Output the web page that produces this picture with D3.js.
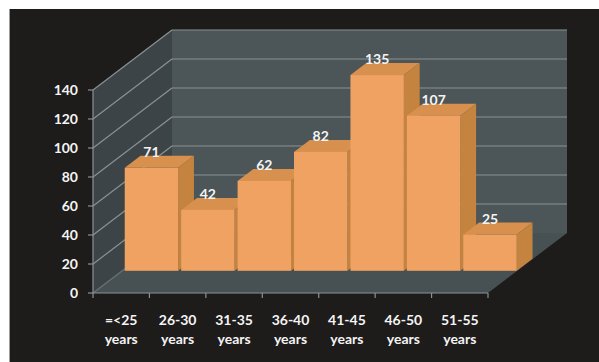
<!DOCTYPE html>
<html>
<head>
<meta charset="utf-8">
<script src="https://cdn.jsdelivr.net/npm/d3@7"></script>
<style>
  html, body { margin: 0; padding: 0; background: #ffffff; }
  svg { display: block; }
  text { font-family: Lato, "Open Sans", "DejaVu Sans", sans-serif; fill: #f4f4f4; font-weight: 700; }
</style>
</head>
<body>
<svg id="chart" width="599" height="362"></svg>
<script>
// Age groups and respondent counts
const categories = ["=<25 years", "26-30 years", "31-35 years", "36-40 years", "41-45 years", "46-50 years", "51-55 years"];
const values = [71, 42, 62, 82, 135, 107, 25];
const yTicks = [0, 20, 40, 60, 80, 100, 120, 140];

const W = 599, H = 362;
const svg = d3.select("#chart");

// Colours
const bg = "#1e1b1b", backWall = "#4c5557", sideWall = "#3c4447", floorCol = "#475052";
const gridCol = "#8a9294";
const barFront = "#efa262", barSide = "#c4833f", barTop = "#d8904f";

// Oblique projection: depth vector from the front plane to the back wall
const DX = 79, DY = -60;
const barZ0 = 0.37, barZ1 = 0.57;   // bar slab position in depth (0 = front, 1 = back)

const x = d3.scaleBand().domain(categories).range([93, 488]).padding(0);
const y = d3.scaleLinear().domain([0, 140]).range([293, 90]);

// Background panel
svg.append("rect").attr("x", 9).attr("y", 9).attr("width", W - 9).attr("height", H - 9).attr("fill", bg);
svg.append("line").attr("x1", 9.5).attr("x2", 9.5).attr("y1", 9).attr("y2", H)
  .attr("stroke", "#9a9a9a").attr("stroke-width", 1);

const x0 = x.range()[0], x1 = x.range()[1];
const y0 = y(0), yTop = y(140);
const pts = a => a.map(p => p.join(",")).join(" ");

// Walls and floor
svg.append("polygon").attr("fill", backWall)
  .attr("points", pts([[x0 + DX, yTop + DY], [x1 + DX, yTop + DY], [x1 + DX, y0 + DY], [x0 + DX, y0 + DY]]));
svg.append("polygon").attr("fill", sideWall)
  .attr("points", pts([[x0, yTop], [x0 + DX, yTop + DY], [x0 + DX, y0 + DY], [x0, y0]]));
svg.append("polygon").attr("fill", floorCol)
  .attr("points", pts([[x0, y0], [x1, y0], [x1 + DX, y0 + DY], [x0 + DX, y0 + DY]]));

// Gridlines on the back wall and the side wall
const grid = svg.append("g").attr("stroke", gridCol).attr("stroke-width", 1.2).attr("fill", "none");
yTicks.filter(v => v > 0).forEach(v => {
  grid.append("line").attr("x1", x0 + DX).attr("x2", x1 + DX)
    .attr("y1", y(v) + DY).attr("y2", y(v) + DY);
  grid.append("line").attr("x1", x0).attr("y1", y(v))
    .attr("x2", x0 + DX).attr("y2", y(v) + DY);
});
// floor edge along the side wall
grid.append("line").attr("x1", x0).attr("y1", y0).attr("x2", x0 + DX).attr("y2", y0 + DY).attr("stroke-opacity", 0.6);

// Axis lines and ticks
const axisG = svg.append("g").attr("stroke", gridCol).attr("stroke-width", 1.2);
axisG.append("line").attr("x1", x0).attr("x2", x0).attr("y1", yTop).attr("y2", y0);
axisG.append("line").attr("x1", x0).attr("x2", x1).attr("y1", y0).attr("y2", y0);
yTicks.forEach(v => {
  axisG.append("line").attr("x1", x0 - 5).attr("x2", x0).attr("y1", y(v)).attr("y2", y(v));
});
categories.concat([null]).forEach(c => {
  const xx = c === null ? x1 : x(c);
  axisG.append("line").attr("x1", xx).attr("x2", xx).attr("y1", y0).attr("y2", y0 + 5);
});

// Y tick labels
svg.append("g").selectAll("text").data(yTicks).join("text")
  .attr("x", x0 - 15).attr("y", d => y(d)).attr("dy", "0.36em")
  .attr("text-anchor", "end").attr("font-size", 14)
  .text(d => d);

// X labels (two lines)
const xl = svg.append("g").selectAll("text").data(categories).join("text")
  .attr("text-anchor", "middle").attr("font-size", 14);
xl.each(function(d) {
  const parts = d.split(" ");
  const t = d3.select(this);
  const cx = x(d) + x.bandwidth() / 2;
  t.append("tspan").attr("x", cx).attr("y", 325).text(parts[0]);
  t.append("tspan").attr("x", cx).attr("y", 344).text(parts[1]);
});

// Bars as oblique boxes
const ox = barZ0 * DX, oy = barZ0 * DY;
const ddx = (barZ1 - barZ0) * DX, ddy = (barZ1 - barZ0) * DY;
const bars = svg.append("g");
categories.forEach((c, i) => {
  const v = values[i];
  const bx0 = x(c) + 2.5 + ox, bx1 = x(c) + x.bandwidth() - 0.5 + ox;
  const by0 = y(0) + oy, by1 = y(v) + oy;
  const g = bars.append("g");
  g.append("polygon").attr("fill", barTop)
    .attr("points", pts([[bx0, by1], [bx1, by1], [bx1 + ddx, by1 + ddy], [bx0 + ddx, by1 + ddy]]));
  g.append("polygon").attr("fill", barSide)
    .attr("points", pts([[bx1, by1], [bx1 + ddx, by1 + ddy], [bx1 + ddx, by0 + ddy], [bx1, by0]]));
  g.append("rect").attr("fill", barFront)
    .attr("x", bx0).attr("y", by1).attr("width", bx1 - bx0).attr("height", by0 - by1);
});

// Value labels
svg.append("g").selectAll("text").data(values).join("text")
  .attr("text-anchor", "middle").attr("font-size", 14)
  .attr("x", (d, i) => x(categories[i]) + x.bandwidth() / 2 + 1 + ox)
  .attr("y", d => y(d) + oy - 11)
  .text(d => d);
</script>
</body>
</html>
